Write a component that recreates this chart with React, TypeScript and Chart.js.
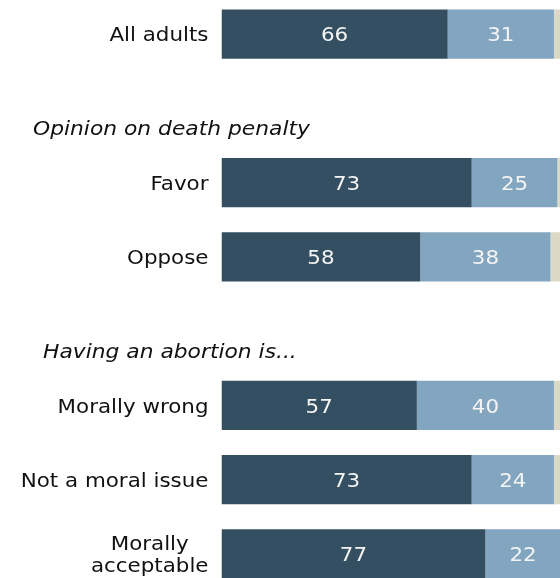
import React, { useEffect, useRef } from "react";
import { Chart, registerables } from "chart.js";

Chart.register(...registerables);

const categories: (string | string[])[] = [
  "All adults",
  "",
  "Favor",
  "Oppose",
  "",
  "Morally wrong",
  "Not a moral issue",
  ["Morally", "acceptable"],
];
const seriesNames = ["Series A", "Series B", "Series C"];
const seriesA = [66, null, 73, 58, null, 57, 73, 77];
const seriesB = [31, null, 25, 38, null, 40, 24, 22];
const seriesC = [3, null, 2, 4, null, 3, 3, 1];
const headerRows = [1, 4];
const headerTexts = ["Opinion on death penalty", "Having an abortion is..."];

const COLORS = ["#344f61", "#82a6bf", "#dcd8c6"];
const FONT = '"DejaVu Sans", Verdana, sans-serif';
const LABEL_RIGHT = 208.5;
const HEADER_X = [33, 43];
const SX = 1.07;
const HSX = 1.09;

function drawText(ctx: CanvasRenderingContext2D, t: string, x: number, y: number, sx: number) {
  ctx.save();
  ctx.translate(x, y);
  ctx.scale(sx, 1);
  ctx.fillText(t, 0, 0);
  ctx.restore();
}

const textPlugin = {
  id: "customText",
  afterDatasetsDraw(chart: any) {
    const ctx = chart.ctx as CanvasRenderingContext2D;
    const y = chart.scales.y;
    const step = y.getPixelForValue(1) - y.getPixelForValue(0);
    ctx.save();
    // category labels
    ctx.fillStyle = "#111111";
    ctx.font = `20px ${FONT}`;
    ctx.textBaseline = "middle";
    categories.forEach((lab, i) => {
      const cy = y.getPixelForValue(i) + 2;
      if (Array.isArray(lab)) {
        const widths = lab.map((l) => ctx.measureText(l).width * SX);
        const maxW = Math.max(...widths);
        const cx = LABEL_RIGHT - maxW / 2;
        const lh = 21.5;
        ctx.textAlign = "center";
        lab.forEach((l, k) => {
          drawText(ctx, l, cx, cy + (k - (lab.length - 1) / 2) * lh, SX);
        });
      } else if (lab) {
        ctx.textAlign = "right";
        drawText(ctx, lab, LABEL_RIGHT, cy, SX);
      }
    });
    // headers
    ctx.font = `italic 20px ${FONT}`;
    ctx.textAlign = "left";
    ctx.textBaseline = "alphabetic";
    headerRows.forEach((r, k) => {
      const cy = y.getPixelForValue(r) + step * 0.36;
      drawText(ctx, headerTexts[k], HEADER_X[k], cy, HSX);
    });
    // values
    ctx.font = `20px ${FONT}`;
    ctx.textAlign = "center";
    ctx.textBaseline = "middle";
    ctx.fillStyle = "#f4f4f4";
    [0, 1].forEach((di) => {
      const meta = chart.getDatasetMeta(di);
      const data = chart.data.datasets[di].data;
      meta.data.forEach((el: any, i: number) => {
        const v = data[i];
        if (v == null) return;
        const p = el.getCenterPoint();
        drawText(ctx, String(v), p.x, p.y + 2, SX);
      });
    });
    ctx.restore();
  },
};

export default function App() {
  const ref = useRef<HTMLCanvasElement | null>(null);
  useEffect(() => {
    if (!ref.current) return;
    const chart = new Chart(ref.current, {
      type: "bar",
      data: {
        labels: categories as any,
        datasets: [seriesA, seriesB, seriesC].map((d, i) => ({
          label: seriesNames[i],
          data: d,
          backgroundColor: COLORS[i],
          borderWidth: 0,
          barPercentage: 0.665,
          categoryPercentage: 1,
        })),
      },
      options: {
        indexAxis: "y",
        animation: false,
        responsive: true,
        maintainAspectRatio: false,
        layout: { padding: { left: 221.5, right: 0, top: 0, bottom: 0 } },
        plugins: {
          legend: { display: false },
          tooltip: { enabled: false },
        },
        scales: {
          x: { stacked: true, display: false, min: 0, max: 98.77 },
          y: { stacked: true, display: false },
        },
      },
      plugins: [textPlugin],
    });
    return () => chart.destroy();
  }, []);
  return (
    <div
      style={{
        position: "fixed",
        left: 0,
        top: -3,
        width: 560,
        height: 594,
        overflow: "hidden",
        background: "#ffffff",
      }}
    >
      <canvas ref={ref} />
    </div>
  );
}
